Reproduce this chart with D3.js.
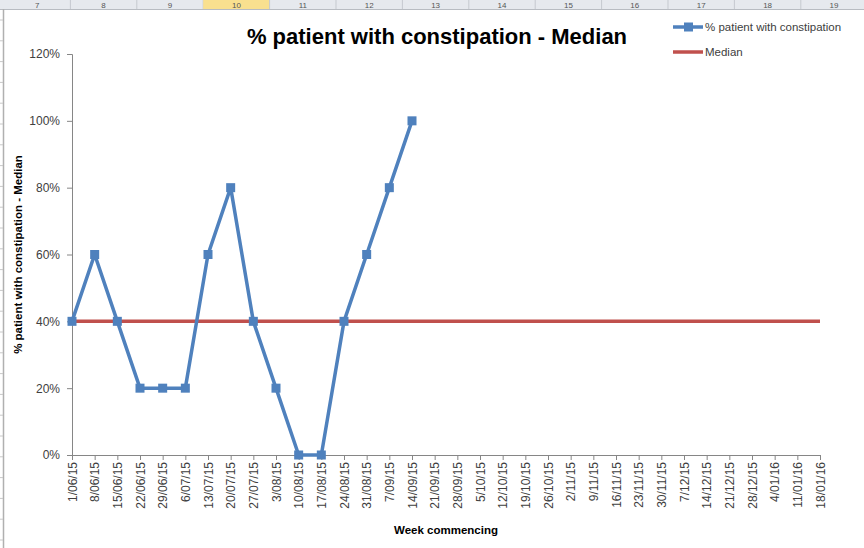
<!DOCTYPE html>
<html>
<head>
<meta charset="utf-8">
<script src="https://cdn.jsdelivr.net/npm/d3@7"></script>
<style>
  body { margin: 0; background: #fff; }
  svg { display: block; font-family: "Liberation Sans", Arial, sans-serif; }
</style>
</head>
<body>
<svg id="chart"></svg>
<script>
const weeks = ['1/06/15', '8/06/15', '15/06/15', '22/06/15', '29/06/15', '6/07/15', '13/07/15', '20/07/15',
    '27/07/15', '3/08/15', '10/08/15', '17/08/15', '24/08/15', '31/08/15', '7/09/15', '14/09/15',
    '21/09/15', '28/09/15', '5/10/15', '12/10/15', '19/10/15', '26/10/15', '2/11/15', '9/11/15',
    '16/11/15', '23/11/15', '30/11/15', '7/12/15', '14/12/15', '21/12/15', '28/12/15', '4/01/16',
    '11/01/16', '18/01/16']
const pctValues = [0.4, 0.6, 0.4, 0.2, 0.2, 0.2, 0.6, 0.8, 0.4, 0.2, 0, 0, 0.4, 0.6, 0.8, 1.0]
const medianValue = 0.4
const yTicks = [0, 0.2, 0.4, 0.6, 0.8, 1.0, 1.2]
const sheetColumns = ['7', '8', '9', '10', '11', '12', '13', '14', '15', '16', '17', '18', '19']

const W = 864, H = 548
const svg = d3.select('#chart').attr('width', W).attr('height', H)

// spreadsheet chrome behind the chart
const colW = 66.4
const header = svg.append('g')
header.append('rect').attr('x', 0).attr('y', 0).attr('width', W).attr('height', 9).attr('fill', '#e6e9ee')
sheetColumns.forEach((c, i) => {
    const x0 = 4 + i * colW
    if (c === '10') {
        header.append('rect').attr('x', x0).attr('y', 0).attr('width', colW).attr('height', 9).attr('fill', '#f9e08f')
    }
    header.append('line').attr('x1', x0 + colW).attr('x2', x0 + colW).attr('y1', 0).attr('y2', 9)
        .attr('stroke', '#c5c9cf')
    header.append('text').attr('x', x0 + colW / 2).attr('y', 7.5).attr('text-anchor', 'middle')
        .attr('font-size', 8).attr('fill', '#555').text(c)
})
header.append('line').attr('x1', 0).attr('x2', W).attr('y1', 9.5).attr('y2', 9.5).attr('stroke', '#b8bcc2')
svg.append('line').attr('x1', 3.5).attr('x2', 3.5).attr('y1', 9).attr('y2', H).attr('stroke', '#b0b0b0').attr('stroke-width', 1.5)
d3.range(20, H, 20.8).forEach(y => {
    svg.append('line').attr('x1', 0).attr('x2', 3).attr('y1', y).attr('y2', y).attr('stroke', '#c8c8c8')
})

const margin = { left: 72, right: 44, top: 54, bottom: 93 }
const x = d3.scalePoint().domain(weeks).range([margin.left, W - margin.right])
const y = d3.scaleLinear().domain([0, 1.2]).range([H - margin.bottom, margin.top])

const axisColor = '#868686'
const textColor = '#404040'

// y axis
const yAxis = svg.append('g').attr('transform', `translate(${margin.left},0)`)
    .call(d3.axisLeft(y).tickValues(yTicks).tickFormat(d3.format('.0%')).tickSizeOuter(0).tickSize(5))
yAxis.select('.domain').attr('stroke', axisColor)
yAxis.selectAll('.tick line').attr('stroke', axisColor)
yAxis.selectAll('.tick text').attr('fill', textColor).attr('x', -12)
    .attr('font-family', '"Liberation Sans Narrow", "Liberation Sans", sans-serif').style('font-size', '12px')

// x axis
const xAxis = svg.append('g').attr('transform', `translate(0,${y(0)})`)
    .call(d3.axisBottom(x).tickSizeOuter(0).tickSize(5))
xAxis.select('.domain').attr('stroke', axisColor)
xAxis.selectAll('.tick line').attr('stroke', axisColor)
xAxis.selectAll('.tick text')
    .attr('font-size', 12).attr('fill', textColor)
    .attr('font-family', '"Liberation Sans Narrow", "Liberation Sans", sans-serif')
    .attr('transform', 'rotate(-90)')
    .attr('text-anchor', 'end')
    .attr('x', -7).attr('y', 0).attr('dy', '0.35em')

// median line
svg.append('line')
    .attr('x1', x(weeks[0])).attr('x2', x(weeks[weeks.length - 1]))
    .attr('y1', y(medianValue)).attr('y2', y(medianValue))
    .attr('stroke', '#c0504d').attr('stroke-width', 3.5)

// series
const pts = pctValues.map((v, i) => ({ w: weeks[i], v }))
svg.append('path').datum(pts)
    .attr('fill', 'none').attr('stroke', '#4f81bd').attr('stroke-width', 3.5).attr('stroke-linejoin', 'round')
    .attr('d', d3.line().x(d => x(d.w)).y(d => y(d.v)))
svg.selectAll('.mk').data(pts).enter().append('rect')
    .attr('class', 'mk')
    .attr('x', d => x(d.w) - 4.5).attr('y', d => y(d.v) - 4.5)
    .attr('width', 9).attr('height', 9)
    .attr('fill', '#4f81bd')

// titles
svg.append('text').attr('x', 437).attr('y', 44).attr('text-anchor', 'middle')
    .attr('font-size', 22).attr('font-weight', 'bold').attr('fill', '#000')
    .text('% patient with constipation - Median')
svg.append('text').attr('x', 446).attr('y', 534).attr('text-anchor', 'middle')
    .attr('font-size', 11.5).attr('font-weight', 'bold').attr('fill', '#000')
    .text('Week commencing')
svg.append('text').attr('transform', `translate(22,${(y(0) + y(1.2)) / 2}) rotate(-90)`)
    .attr('text-anchor', 'middle')
    .attr('font-size', 11.5).attr('font-weight', 'bold').attr('fill', '#000')
    .text('% patient with constipation - Median')

// legend
const lg = svg.append('g')
lg.append('line').attr('x1', 673).attr('x2', 703).attr('y1', 27).attr('y2', 27)
    .attr('stroke', '#4f81bd').attr('stroke-width', 3.5)
lg.append('rect').attr('x', 684).attr('y', 22.5).attr('width', 9).attr('height', 9).attr('fill', '#4f81bd')
lg.append('text').attr('x', 705).attr('y', 27).attr('dy', '0.35em').attr('font-size', 11.5).attr('fill', textColor)
    .text('% patient with constipation')
lg.append('line').attr('x1', 673).attr('x2', 703).attr('y1', 52).attr('y2', 52)
    .attr('stroke', '#c0504d').attr('stroke-width', 3.5)
lg.append('text').attr('x', 705).attr('y', 52).attr('dy', '0.35em').attr('font-size', 11.5).attr('fill', textColor)
    .text('Median')
</script>
</body>
</html>
